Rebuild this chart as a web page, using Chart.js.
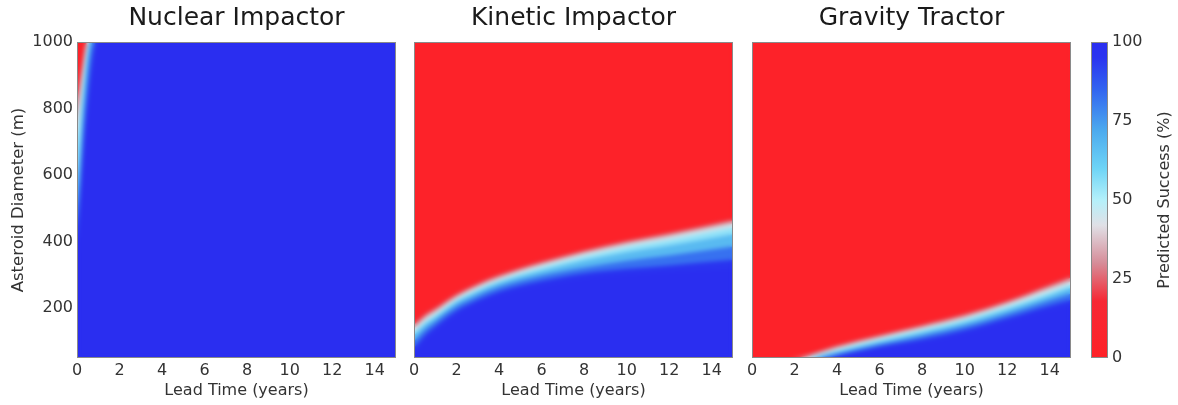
<!DOCTYPE html>
<html>
<head>
<meta charset="utf-8">
<script src="https://cdn.jsdelivr.net/npm/chart.js@4.4.1/dist/chart.umd.min.js"></script>
<style>
  body { margin: 0; background: #fff; width: 1178px; height: 405px; overflow: hidden; position: relative; }
  canvas { position: absolute; top: 0; }
</style>
</head>
<body>
<canvas id="nuclear" width="400" height="405" style="left:0px"></canvas>
<canvas id="kinetic" width="340" height="405" style="left:399px"></canvas>
<canvas id="gravity" width="340" height="405" style="left:737px"></canvas>
<canvas id="colorbar" width="102" height="405" style="left:1076px"></canvas>
<script>
// success contour levels (%) — each panel gives the diameter (m) of every contour
const levels = [0, 5, 25, 40, 50, 60, 75, 90, 100];

// tick labels
const leadTicks = [0, 2, 4, 6, 8, 10, 12, 14];
const diamTicks = [200, 400, 600, 800, 1000];
const colorbarTicks = [0, 25, 50, 75, 100];

// Nuclear impactor: contours are near vertical, given as [lead time, diameter] pairs
const nuclearContours = [
  [[0, 1000], [15, 1000]],
  [[0, 860], [0.2, 940], [0.42, 1000], [15, 1000]],
  [[0, 800], [0.1, 860], [0.25, 930], [0.47, 1000], [15, 1000]],
  [[0, 740], [0.12, 820], [0.3, 920], [0.52, 1000], [15, 1000]],
  [[0, 680], [0.15, 790], [0.33, 900], [0.57, 1000], [15, 1000]],
  [[0, 560], [0.1, 650], [0.22, 780], [0.62, 1000], [15, 1000]],
  [[0, 460], [0.12, 580], [0.3, 760], [0.75, 1000], [15, 1000]],
  [[0, 400], [0.2, 580], [0.45, 800], [0.92, 1000], [15, 1000]],
  [[0, 340], [0.12, 440], [0.3, 600], [0.6, 820], [1.1, 1000], [15, 1000]]
];

// Kinetic impactor
const kineticLead = [0, 0.5, 1, 2, 3, 4, 6, 8, 10, 12, 15];
const kineticDiam = [
  [1000, 1000, 1000, 1000, 1000, 1000, 1000, 1000, 1000, 1000, 1000],
  [170, 192, 210, 252, 283, 308, 348, 380, 408, 432, 474],
  [150, 178, 198, 240, 272, 298, 338, 372, 400, 424, 464],
  [138, 167, 188, 232, 264, 290, 330, 364, 392, 415, 454],
  [128, 158, 180, 225, 257, 283, 322, 355, 383, 405, 442],
  [118, 150, 172, 218, 250, 276, 312, 343, 368, 388, 422],
  [100, 135, 160, 206, 238, 264, 298, 322, 342, 358, 385],
  [80, 118, 145, 192, 224, 250, 282, 305, 318, 328, 345],
  [55, 100, 128, 178, 212, 238, 268, 290, 302, 310, 318]
];

// Gravity tractor
const gravityLead = [0, 1.8, 2.4, 3, 3.5, 4, 6, 8, 10, 12, 14, 15];
const gravityDiam = [
  [1000, 1000, 1000, 1000, 1000, 1000, 1000, 1000, 1000, 1000, 1000, 1000],
  [50, 50, 62, 74, 84, 94, 126, 156, 190, 230, 280, 305],
  [50, 50, 55, 66, 76, 86, 118, 148, 180, 220, 268, 292],
  [50, 50, 52, 61, 70, 80, 112, 141, 172, 212, 258, 281],
  [50, 50, 50, 57, 66, 75, 106, 135, 166, 204, 248, 272],
  [50, 50, 50, 54, 61, 69, 99, 127, 157, 195, 238, 261],
  [50, 50, 50, 51, 56, 63, 91, 117, 146, 183, 224, 244],
  [50, 50, 50, 50, 52, 57, 84, 106, 134, 170, 208, 224],
  [50, 50, 50, 50, 50, 52, 76, 96, 122, 158, 194, 206]
];

// colour map red -> white -> cyan -> blue
const cmapValues = [0, 18, 30, 42, 50, 60, 72, 85, 95, 100];
const cmapColors = [[254, 33, 39], [246, 40, 52], [214, 140, 152], [224, 224, 230],
  [180, 240, 250], [110, 212, 246], [76, 170, 238], [50, 100, 240], [42, 52, 240], [42, 46, 240]];

const FONT = "'DejaVu Sans', sans-serif";

function colorAt(v) {
  let i = 0;
  while (i < cmapValues.length - 2 && v > cmapValues[i + 1]) i++;
  const t = Math.min(1, Math.max(0, (v - cmapValues[i]) / (cmapValues[i + 1] - cmapValues[i])));
  const c = cmapColors[i].map((a, j) => Math.round(a + (cmapColors[i + 1][j] - a) * t));
  return `rgb(${c[0]},${c[1]},${c[2]})`;
}

function contourSets(contours) {
  return levels.map((lv, k) => ({
    data: contours[k],
    fill: 'start',
    backgroundColor: colorAt(k < levels.length - 1 ? (lv + levels[k + 1]) / 2 : 100),
    borderColor: 'transparent',
    borderWidth: 0,
    pointRadius: 0,
    cubicInterpolationMode: 'monotone',
    order: levels.length - k
  }));
}

function pairs(lead, diam) {
  return diam.map(row => row.map((d, i) => ({ x: lead[i], y: d })));
}

// soften the contour bands so they read like a continuous map
const smoothPlugin = {
  id: 'smooth',
  afterDatasetsDraw(chart) {
    const a = chart.chartArea, ctx = chart.ctx;
    const x = Math.floor(a.left), y = Math.floor(a.top);
    const w = Math.ceil(a.right) - x, h = Math.ceil(a.bottom) - y;
    const tmp = document.createElement('canvas');
    tmp.width = w; tmp.height = h;
    tmp.getContext('2d').drawImage(chart.canvas, x, y, w, h, 0, 0, w, h);
    ctx.save();
    ctx.beginPath();
    ctx.rect(a.left, a.top, a.right - a.left, a.bottom - a.top);
    ctx.clip();
    ctx.filter = 'blur(2px)';
    ctx.drawImage(tmp, x, y);
    ctx.restore();
  }
};

const framePlugin = {
  id: 'frame',
  afterDraw(chart) {
    const a = chart.chartArea, ctx = chart.ctx;
    ctx.save();
    ctx.strokeStyle = '#8a8a8a';
    ctx.lineWidth = 1;
    ctx.strokeRect(Math.round(a.left) + 0.5, Math.round(a.top) + 0.5,
      Math.round(a.right - a.left) - 1, Math.round(a.bottom - a.top) - 1);
    ctx.restore();
  }
};

function panel(id, title, contours, showY) {
  new Chart(document.getElementById(id), {
    type: 'line',
    data: { datasets: contourSets(contours) },
    options: {
      responsive: false,
      animation: false,
      events: [],
      layout: { padding: { right: showY ? 4 : 6 } },
      plugins: {
        legend: { display: false },
        tooltip: { enabled: false },
        title: {
          display: true, text: title, color: '#1a1a1a', fullSize: false,
          font: { family: FONT, size: 25, weight: 'normal', lineHeight: 1.2 },
          padding: { top: 3, bottom: 9 }
        }
      },
      scales: {
        x: {
          type: 'linear', min: 0, max: 15,
          grid: { display: false, drawTicks: false }, border: { display: false },
          ticks: { autoSkip: false, color: '#333', font: { family: FONT, size: 16 }, padding: 3,
            maxRotation: 0, callback: v => String(v) },
          afterBuildTicks: s => { s.ticks = leadTicks.map(v => ({ value: v })); },
          afterFit: s => { s.height = 47; },
          title: { display: true, text: 'Lead Time (years)', color: '#333',
            font: { family: FONT, size: 16 }, padding: { top: 0, bottom: 5 } }
        },
        y: {
          type: 'linear', min: 50, max: 1000,
          grid: { display: false, drawTicks: false }, border: { display: false },
          ticks: { display: showY, autoSkip: false, color: '#333', font: { family: FONT, size: 16 },
            padding: 4, callback: v => String(v) },
          afterBuildTicks: s => { s.ticks = diamTicks.map(v => ({ value: v })); },
          afterFit: s => { s.width = showY ? 77 : 15; },
          title: { display: showY, text: 'Asteroid Diameter (m)', color: '#333',
            font: { family: FONT, size: 16.5 }, padding: { top: 9, bottom: 0 } }
        }
      }
    },
    plugins: [smoothPlugin, framePlugin]
  });
}

panel('nuclear', 'Nuclear Impactor', nuclearContours.map(c => c.map(p => ({ x: p[0], y: p[1] }))), true);
panel('kinetic', 'Kinetic Impactor', pairs(kineticLead, kineticDiam), false);
panel('gravity', 'Gravity Tractor', pairs(gravityLead, gravityDiam), false);

// colour bar
const cbLabelPlugin = {
  id: 'cbLabel',
  afterDraw(chart) {
    const ctx = chart.ctx, a = chart.chartArea;
    ctx.save();
    ctx.translate(89, (a.top + a.bottom) / 2);
    ctx.rotate(-Math.PI / 2);
    ctx.fillStyle = '#333';
    ctx.font = '16px ' + FONT;
    ctx.textAlign = 'center';
    ctx.textBaseline = 'middle';
    ctx.fillText('Predicted Success (%)', 0, 0);
    ctx.restore();
  }
};

new Chart(document.getElementById('colorbar'), {
  type: 'bar',
  data: {
    labels: [''],
    datasets: [{
      data: [[colorbarTicks[0], colorbarTicks[colorbarTicks.length - 1]]],
      borderWidth: 0,
      barPercentage: 1,
      categoryPercentage: 1,
      backgroundColor: (c) => {
        const { chart } = c;
        if (!chart.chartArea) return colorAt(50);
        const y = chart.scales.y;
        const g = chart.ctx.createLinearGradient(0, y.getPixelForValue(0), 0, y.getPixelForValue(100));
        cmapValues.forEach(v => g.addColorStop(v / 100, colorAt(v)));
        return g;
      }
    }]
  },
  options: {
    responsive: false,
    animation: false,
    events: [],
    layout: { padding: { left: 15, top: 42, bottom: 47 } },
    plugins: { legend: { display: false }, tooltip: { enabled: false } },
    scales: {
      x: { display: false },
      y: {
        position: 'right', min: 0, max: 100,
        grid: { display: false, drawTicks: false }, border: { display: false },
        ticks: { autoSkip: false, color: '#333', font: { family: FONT, size: 16 }, padding: 4 },
        afterBuildTicks: s => { s.ticks = colorbarTicks.map(v => ({ value: v })); },
        afterFit: s => { s.width = 70; }
      }
    }
  },
  plugins: [framePlugin, cbLabelPlugin]
});
</script>
</body>
</html>
